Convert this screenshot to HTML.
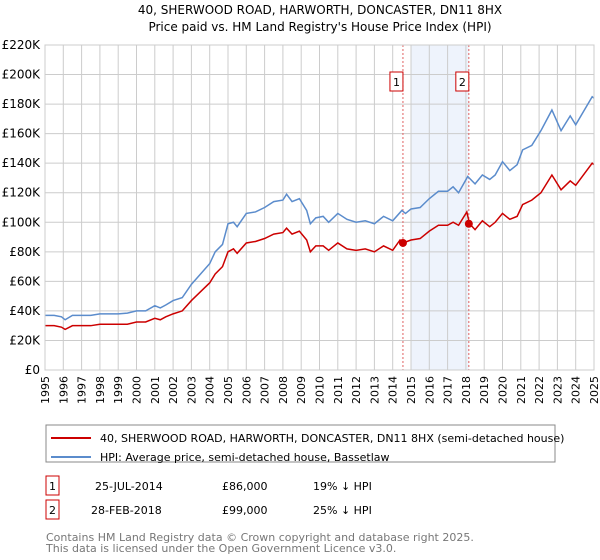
<!DOCTYPE html>
<html><head><meta charset="utf-8">
<style>
body{margin:0;background:#fff;font-family:"Liberation Sans","DejaVu Sans",sans-serif;}
#wrap{position:relative;width:600px;height:560px;overflow:hidden;}
svg text{font-family:"DejaVu Sans","Liberation Sans",sans-serif;}
</style></head><body>
<div id="wrap">
<svg id="chart" width="600" height="560">
<text x="320" y="14" text-anchor="middle" font-size="12" fill="#000">40, SHERWOOD ROAD, HARWORTH, DONCASTER, DN11 8HX</text>
<text x="320" y="31" text-anchor="middle" font-size="12" fill="#000">Price paid vs. HM Land Registry's House Price Index (HPI)</text>
<g id="grid"></g>
<g id="series"></g>
<g id="axes"></g>
<rect x="46" y="425" width="509" height="37" fill="none" stroke="#888"/>
<line x1="51" y1="438" x2="91" y2="438" stroke="#cc0000" stroke-width="2"/>
<text x="100" y="442" font-size="11">40, SHERWOOD ROAD, HARWORTH, DONCASTER, DN11 8HX (semi-detached house)</text>
<line x1="51" y1="457" x2="91" y2="457" stroke="#5b8ccc" stroke-width="2"/>
<text x="100" y="461" font-size="11">HPI: Average price, semi-detached house, Bassetlaw</text>
<g>
<rect x="46" y="476" width="13" height="19" fill="none" stroke="#cc0000"/>
<text x="52.5" y="490" font-size="11" text-anchor="middle">1</text>
<text x="95" y="490" font-size="11">25-JUL-2014</text>
<text x="222" y="490" font-size="11">£86,000</text>
<text x="313" y="490" font-size="11">19% ↓ HPI</text>
</g>
<g>
<rect x="46" y="500" width="13" height="19" fill="none" stroke="#cc0000"/>
<text x="52.5" y="514" font-size="11" text-anchor="middle">2</text>
<text x="91" y="514" font-size="11">28-FEB-2018</text>
<text x="222" y="514" font-size="11">£99,000</text>
<text x="313" y="514" font-size="11">25% ↓ HPI</text>
</g>
<text x="46" y="541" font-size="11" fill="#777">Contains HM Land Registry data © Crown copyright and database right 2025.</text>
<text x="46" y="552" font-size="11" fill="#777">This data is licensed under the Open Government Licence v3.0.</text>
</svg>
</div>
<script>
const yearTicks=[1995,1996,1997,1998,1999,2000,2001,2002,2003,2004,2005,2006,2007,2008,2009,2010,2011,2012,2013,2014,2015,2016,2017,2018,2019,2020,2021,2022,2023,2024,2025];
const valueTicks=[0,20,40,60,80,100,120,140,160,180,200,220];
const valueLabels=["£0","£20K","£40K","£60K","£80K","£100K","£120K","£140K","£160K","£180K","£200K","£220K"];
const hpiYears=[1995,1995.5,1995.9,1996.1,1996.5,1997,1997.5,1998,1998.5,1999,1999.5,2000,2000.5,2001,2001.3,2001.6,2002,2002.5,2003,2003.5,2004,2004.3,2004.7,2005,2005.3,2005.5,2006,2006.5,2007,2007.5,2008,2008.2,2008.5,2008.9,2009.3,2009.5,2009.8,2010.2,2010.5,2011,2011.5,2012,2012.5,2013,2013.5,2014,2014.5,2014.7,2015,2015.5,2016,2016.5,2017,2017.3,2017.6,2018.1,2018.5,2018.9,2019.3,2019.6,2020.0,2020.4,2020.8,2021.1,2021.6,2022.1,2022.7,2023.2,2023.7,2024.0,2024.9,2025];
const hpiValues=[37,37,36,34,37,37,37,38,38,38,38.5,40,40,43.5,42,44,47,49,58,65,72,80,85,99,100,97,106,107,110,114,115,119,114,116,108,99,103,104,100,106,102,100,101,99,104,101,108,106,109,110,116,121,121,124,120,131,126,132,129,132,141,135,139,149,152,162,176,162,172,166,185,184];
const priceYears=[1995,1995.5,1995.9,1996.1,1996.5,1997,1997.5,1998,1998.5,1999,1999.5,2000,2000.5,2001,2001.3,2001.6,2002,2002.5,2003,2003.5,2004,2004.3,2004.7,2005,2005.3,2005.5,2006,2006.5,2007,2007.5,2008,2008.2,2008.5,2008.9,2009.3,2009.5,2009.8,2010.2,2010.5,2011,2011.5,2012,2012.5,2013,2013.5,2014,2014.4,2014.56,2015,2015.5,2016,2016.5,2017,2017.3,2017.6,2018.05,2018.2,2018.5,2018.9,2019.3,2019.6,2020.0,2020.4,2020.8,2021.1,2021.6,2022.1,2022.7,2023.2,2023.7,2024.0,2024.9,2025];
const priceValues=[30,30,29,27.5,30,30,30,31,31,31,31,32.5,32.5,35,34,36,38,40,47,53,59,65,70,80,82,79,86,87,89,92,93,96,92,94,88,80,84,84,81,86,82,81,82,80,84,81,88,86,88,89,94,98,98,100,98,107,99,95,101,97,100,106,102,104,112,115,120,132,122,128,125,140,139];
const saleYears=[2014.56,2018.16];
const saleValues=[86,99];
const saleLabels=["1","2"];
const X0=45,X1=594,Y0=370,Y1=45;
const xs=y=>X0+(y-1995)/(2025-1995)*(X1-X0);
const ys=v=>Y0-v/220*(Y0-Y1);
const NS="http://www.w3.org/2000/svg";
function mk(tag,attrs,parent){const e=document.createElementNS(NS,tag);for(const k in attrs)e.setAttribute(k,attrs[k]);parent.appendChild(e);return e;}
const grid=document.getElementById('grid'),series=document.getElementById('series'),axes=document.getElementById('axes');
const sh=mk('rect',{x:xs(2015),y:Y1,width:xs(saleYears[1])-xs(2015),height:Y0-Y1,fill:'#eef3fc'},grid);


yearTicks.forEach(yr=>{
 const l=mk('line',{x1:xs(yr),x2:xs(yr),y1:Y1,y2:Y0,stroke:'#cccccc','stroke-width':1},grid);
 
 
 const t=mk('text',{x:0,y:0,'font-size':11,'text-anchor':'end',transform:`translate(${xs(yr)+4},${Y0+6}) rotate(-90)`},axes);
 t.textContent=yr;
 
 
});
valueTicks.forEach((v,i)=>{
 const l=mk('line',{x1:X0,x2:X1,y1:ys(v),y2:ys(v),stroke:'#cccccc','stroke-width':1},grid);
 
 
 const t=mk('text',{x:X0-5,y:ys(v)+4,'font-size':12,'text-anchor':'end'},axes);
 t.textContent=valueLabels[i];
 
 
});
saleYears.forEach((yr,i)=>{
 const l=mk('line',{x1:xs(yr),x2:xs(yr),y1:Y1,y2:Y0,stroke:'#e06060','stroke-width':1,'stroke-dasharray':'2,2'},grid);
 
 
 const r=mk('rect',{x:xs(yr)-13,y:72,width:13,height:19,fill:'#fff',stroke:'#cc0000'},axes);
 
 
 const t=mk('text',{x:xs(yr)-6.5,y:86,'font-size':11,'text-anchor':'middle'},axes);
 t.textContent=saleLabels[i];
 
 
});
const hp=mk('polyline',{points:hpiYears.map((y,i)=>xs(y)+','+ys(hpiValues[i])).join(' '),fill:'none',stroke:'#5b8ccc','stroke-width':1.5},series);


const pp=mk('polyline',{points:priceYears.map((y,i)=>xs(y)+','+ys(priceValues[i])).join(' '),fill:'none',stroke:'#cc0000','stroke-width':1.5},series);


saleYears.forEach((yr,i)=>{
 const c=mk('circle',{cx:xs(yr),cy:ys(saleValues[i]),r:4,fill:'#cc0000'},series);
 
 
});
const ax=mk('rect',{x:X0,y:Y1,width:X1-X0,height:Y0-Y1,fill:'none',stroke:'#cccccc'},axes);


</script>
</body></html>
